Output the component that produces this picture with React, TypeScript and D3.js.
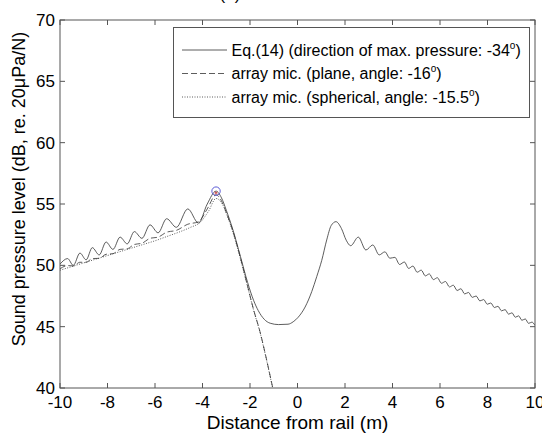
import React from "react";
import * as d3 from "d3";

const xTicks = [-10, -8, -6, -4, -2, 0, 2, 4, 6, 8, 10];
const yTicks = [40, 45, 50, 55, 60, 65, 70];

// Eq.(14) solid curve [distance, dB]
const eqCurve: [number, number][] = [
  [-10, 50.1], [-9.68, 50.55], [-9.44, 50.0], [-9.16, 51.0], [-8.9, 50.45], [-8.64, 51.44],
  [-8.35, 50.85], [-8.06, 51.9], [-7.77, 51.3], [-7.47, 52.3], [-7.17, 51.75], [-6.87, 52.75],
  [-6.55, 52.2], [-6.21, 53.3], [-5.87, 52.65], [-5.51, 53.8], [-5.1, 53.1], [-4.62, 54.6],
  [-4.17, 53.45], [-3.8, 55.0], [-3.43, 56.05], [-3.2, 55.5], [-3.0, 54.5], [-2.72, 52.9],
  [-2.4, 50.7], [-2.1, 48.6], [-1.85, 47.15], [-1.65, 46.3], [-1.4, 45.6], [-1.15, 45.28],
  [-0.8, 45.17], [-0.4, 45.2], [-0.18, 45.4], [0.03, 45.77], [0.32, 46.6], [0.6, 47.86],
  [0.81, 49.08], [1.02, 50.4], [1.23, 52.07], [1.42, 53.25], [1.62, 53.56], [1.85, 53.0],
  [2.05, 52.05], [2.24, 51.6], [2.56, 52.3], [2.88, 51.25], [3.17, 51.66], [3.44, 50.85],
  [3.68, 51.1], [3.89, 50.58], [4.1, 50.65], [4.3, 50.07], [4.5, 50.27], [4.68, 49.75],
  [4.86, 49.94], [5.04, 49.44], [5.21, 49.61], [5.38, 49.14], [5.55, 49.3], [5.72, 48.84],
  [5.89, 48.99], [6.06, 48.54], [6.23, 48.68], [6.4, 48.24], [6.56, 48.38], [6.72, 47.95],
  [6.88, 48.09], [7.04, 47.67], [7.2, 47.79], [7.36, 47.39], [7.52, 47.5], [7.68, 47.1],
  [7.84, 47.21], [7.99, 46.83], [8.14, 46.93], [8.29, 46.56], [8.44, 46.66], [8.59, 46.29],
  [8.74, 46.39], [8.89, 46.02], [9.03, 46.13], [9.17, 45.77], [9.31, 45.88], [9.45, 45.52],
  [9.59, 45.63], [9.73, 45.27], [9.87, 45.37], [10, 45.1],
];

// array mic. (plane) dashed curve
const planeCurve: [number, number][] = [
  [-10, 49.72], [-9.68, 49.98], [-9.44, 49.95], [-9.16, 50.25], [-8.9, 50.25], [-8.64, 50.55],
  [-8.35, 50.57], [-8.06, 50.9], [-7.77, 50.95], [-7.47, 51.3], [-7.17, 51.35], [-6.87, 51.7],
  [-6.55, 51.8], [-6.21, 52.2], [-5.87, 52.3], [-5.51, 52.7], [-5.1, 52.85], [-4.62, 53.35],
  [-4.17, 53.55], [-3.8, 54.6], [-3.43, 55.75], [-3.2, 55.25], [-3.0, 54.3], [-2.72, 52.8],
  [-2.4, 50.6], [-2.1, 48.3], [-1.85, 46.4], [-1.58, 44.6], [-1.3, 42.3], [-1.04, 40.0],
  [-0.9, 38.8],
];

// array mic. (spherical) dotted curve
const sphericalCurve: [number, number][] = [
  [-10, 49.6], [-9.5, 49.9], [-9, 50.2], [-8.5, 50.5], [-8, 50.8], [-7.5, 51.1], [-7, 51.4],
  [-6.5, 51.7], [-6, 52.0], [-5.5, 52.35], [-5, 52.7], [-4.5, 53.1], [-4.1, 53.5],
  [-3.75, 54.4], [-3.43, 55.45], [-3.15, 54.95], [-2.95, 54.0], [-2.72, 52.7], [-2.4, 50.5],
  [-2.1, 48.25], [-1.85, 46.35], [-1.58, 44.55], [-1.3, 42.25], [-1.04, 39.95], [-0.9, 38.8],
];

const maxPoint: [number, number] = [-3.43, 56.05];

const legendLabels = [
  "Eq.(14) (direction of max. pressure: -34",
  "array mic. (plane, angle: -16",
  "array mic. (spherical, angle: -15.5",
];
const legendDash = ["none", "6,3", "1,1.5"];

export default function App() {
  const W = 542, H = 433;
  const left = 60, right = 535, top = 20, bottom = 388;
  const x = d3.scaleLinear().domain([-10, 10]).range([left, right]);
  const y = d3.scaleLinear().domain([40, 70]).range([bottom, top]);
  const line = d3
    .line<[number, number]>()
    .x((d) => x(d[0]))
    .y((d) => y(d[1]))
    .curve(d3.curveMonotoneX);
  const axisColor = "#555";
  const font = "Liberation Sans, Arial, Helvetica, sans-serif";
  const lineColor = "#333";

  return (
    <svg
      width={W}
      height={H}
      style={{ position: "absolute", left: 0, top: 0, background: "#fff" }}
      fontFamily={font}
    >
      <defs>
        <clipPath id="plotclip">
          <rect x={left} y={top} width={right - left} height={bottom - top} />
        </clipPath>
      </defs>
      <rect x={0} y={0} width={W} height={H} fill="#fff" />
      <text x={230} y={-0.5} fontSize={17} textAnchor="middle">(a)</text>

      {/* curves */}
      <g clipPath="url(#plotclip)" fill="none">
        <path d={line(sphericalCurve) || ""} stroke={lineColor} strokeWidth={0.8} strokeDasharray="1,1.5" />
        <path d={line(planeCurve) || ""} stroke={lineColor} strokeWidth={0.8} strokeDasharray="6,3" />
        <path d={line(eqCurve) || ""} stroke={lineColor} strokeWidth={0.8} />
        <circle cx={x(maxPoint[0])} cy={y(maxPoint[1])} r={4.2} stroke="#4a4ad0" strokeWidth={0.9} />
        <g stroke="#d04040" strokeWidth={0.9}>
          <line x1={x(maxPoint[0]) - 1.5} x2={x(maxPoint[0]) + 1.5} y1={y(maxPoint[1]) + 0.5} y2={y(maxPoint[1]) + 3} />
          <line x1={x(maxPoint[0]) + 1.5} x2={x(maxPoint[0]) - 1.5} y1={y(maxPoint[1]) + 0.5} y2={y(maxPoint[1]) + 3} />
        </g>
      </g>

      {/* frame */}
      <rect x={left} y={top} width={right - left} height={bottom - top} fill="none" stroke={axisColor} strokeWidth={1} />

      {/* x ticks */}
      {xTicks.map((t) => (
        <g key={"x" + t}>
          <line x1={x(t)} x2={x(t)} y1={bottom} y2={bottom - 5} stroke={axisColor} />
          <line x1={x(t)} x2={x(t)} y1={top} y2={top + 5} stroke={axisColor} />
          <text x={x(t)} y={407.5} fontSize={17} textAnchor="middle" fill="#000">
            {t}
          </text>
        </g>
      ))}
      {/* y ticks */}
      {yTicks.map((t) => (
        <g key={"y" + t}>
          <line x1={left} x2={left + 5} y1={y(t)} y2={y(t)} stroke={axisColor} />
          <line x1={right} x2={right - 5} y1={y(t)} y2={y(t)} stroke={axisColor} />
          <text x={55} y={y(t) + 6} fontSize={17} textAnchor="end" fill="#000">
            {t}
          </text>
        </g>
      ))}

      {/* axis labels */}
      <text x={(left + right) / 2} y={428.5} fontSize={19} textAnchor="middle">
        Distance from rail (m)
      </text>
      <text transform={`translate(25, ${189}) rotate(-90)`} fontSize={18} textAnchor="middle">
        Sound pressure level (dB, re. 20
        <tspan>μ</tspan>Pa/N)
      </text>

      {/* legend */}
      <rect x={173.5} y={27.5} width={356} height={90} fill="#fff" stroke={axisColor} strokeWidth={1} />
      {legendLabels.map((lab, i) => {
        const cy = 50 + i * 23.5;
        return (
          <g key={lab}>
            <line x1={182} x2={227} y1={cy} y2={cy} stroke={lineColor} strokeWidth={0.8} strokeDasharray={legendDash[i]} />
            <text x={231.5} y={cy + 5.5} fontSize={16} fill="#000">
              {lab}
              <tspan dy={-7} fontSize={10}>o</tspan>
              <tspan dy={7}>)</tspan>
            </text>
          </g>
        );
      })}
    </svg>
  );
}
